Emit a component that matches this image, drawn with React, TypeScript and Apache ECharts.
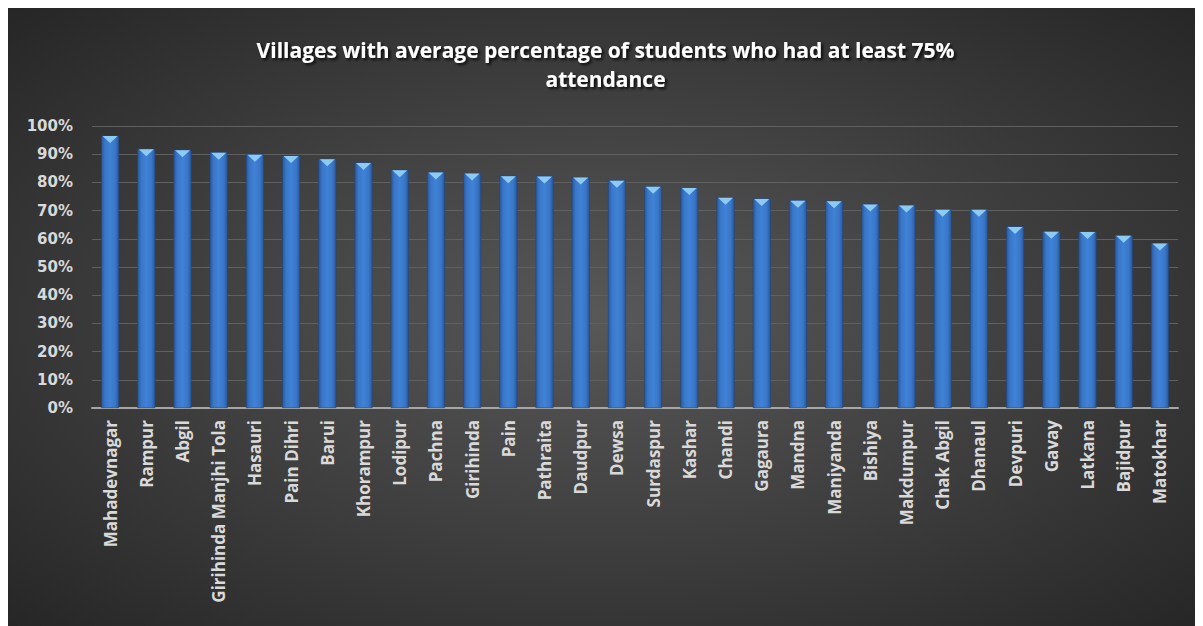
import React, { useEffect, useRef } from "react";
import * as echarts from "echarts";

const villages = [
  "Mahadevnagar", "Rampur", "Abgil", "Girihinda Manjhi Tola", "Hasauri", "Pain Dihri", "Barui",
  "Khorampur", "Lodipur", "Pachna", "Girihinda", "Pain", "Pathraita", "Daudpur", "Dewsa",
  "Surdaspur", "Kashar", "Chandi", "Gagaura", "Mandna", "Maniyanda", "Bishiya", "Makdumpur",
  "Chak Abgil", "Dhanaul", "Devpuri", "Gavay", "Latkana", "Bajidpur", "Matokhar",
];

const attendance = [
  96.6, 91.9, 91.6, 90.7, 90.0, 89.5, 88.4, 87.1, 84.5, 83.7, 83.3, 82.4, 82.3, 81.9, 80.8,
  78.6, 78.2, 74.7, 74.3, 73.7, 73.5, 72.3, 72.0, 70.5, 70.5, 64.4, 62.7, 62.6, 61.3, 58.5,
];

const titleText = "Villages with average percentage of students who had at least 75%\nattendance";

export default function App() {
  const ref = useRef<HTMLDivElement>(null);
  useEffect(() => {
    if (!ref.current) return;
    const chart = echarts.init(ref.current, null, { renderer: "svg" });
    chart.setOption({
      animation: false,
      backgroundColor: {
        type: "radial",
        x: 0.5,
        y: 0.5,
        r: 0.75,
        colorStops: [
          { offset: 0, color: "#585858" },
          { offset: 1, color: "#232323" },
        ],
      },
      title: {
        text: titleText,
        left: "center",
        top: 22,
        textStyle: {
          color: "#ffffff",
          fontFamily: "Open Sans",
          fontWeight: "bold",
          fontSize: 21,
          lineHeight: 29,
          textShadowColor: "rgba(0,0,0,0.85)",
          textShadowBlur: 3,
          textShadowOffsetX: 2,
          textShadowOffsetY: 2,
        },
      },
      grid: { left: 84, right: 25, top: 118, bottom: 218, containLabel: false },
      xAxis: {
        type: "category",
        data: villages,
        axisTick: { show: false },
        axisLine: { lineStyle: { color: "#a6a6a6", width: 2 } },
        axisLabel: {
          rotate: 90,
          interval: 0,
          margin: 12,
          color: "#d9d9d9",
          fontFamily: "Open Sans",
          fontWeight: "bold",
          fontSize: 17,
        },
      },
      yAxis: {
        type: "value",
        min: 0,
        max: 100,
        interval: 10,
        axisLine: { show: false },
        axisTick: { show: false },
        splitLine: { lineStyle: { color: "#606060", width: 1 } },
        axisLabel: {
          formatter: "{value}%",
          margin: 19,
          color: "#d9d9d9",
          fontFamily: "DejaVu Sans",
          fontWeight: "bold",
          fontSize: 15,
        },
      },
      series: [
        {
          type: "bar",
          data: attendance,
          barWidth: 18,
          itemStyle: {
            color: {
              type: "linear",
              x: 0, y: 0, x2: 1, y2: 0,
              colorStops: [
                { offset: 0, color: "#29579a" },
                { offset: 0.2, color: "#3976c8" },
                { offset: 0.5, color: "#3f82d6" },
                { offset: 0.8, color: "#3976c8" },
                { offset: 1, color: "#29579a" },
              ],
            },
            borderColor: "#22467a",
            borderWidth: 0.6,
          },
        },
        {
          type: "scatter",
          data: attendance,
          symbol: "triangle",
          symbolRotate: 180,
          symbolSize: [15, 7],
          symbolOffset: [0, 4],
          itemStyle: { color: "#8ecbf3", opacity: 1 },
          z: 3,
        },
      ],
    });
    return () => chart.dispose();
  }, []);
  return <div ref={ref} style={{ width: 1195, height: 618 }} />;
}
